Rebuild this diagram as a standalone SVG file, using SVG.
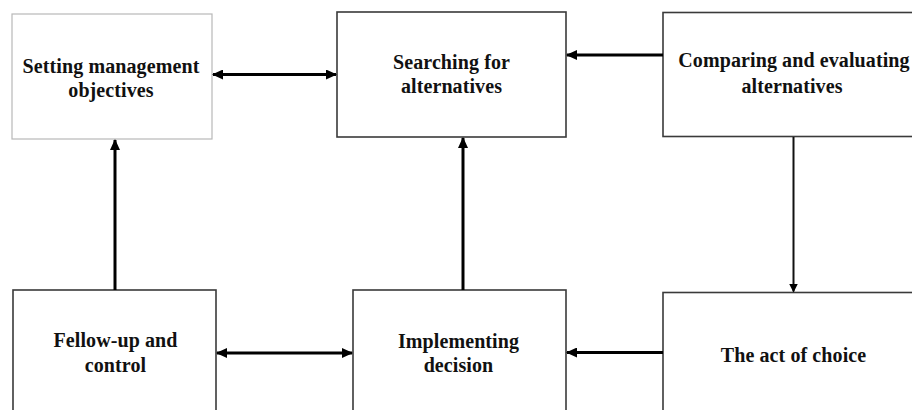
<svg xmlns="http://www.w3.org/2000/svg" width="912" height="410" viewBox="0 0 912 410">
<style>
.box{fill:#fff;stroke:#3a3a3a;stroke-width:1.6}
.light{fill:#fff;stroke:#b8b8b8;stroke-width:1.2}
.lbl{font-family:'Liberation Serif','Times New Roman',Times,serif;font-weight:700;font-size:20px;letter-spacing:0.1px;fill:#111;text-anchor:middle}
.con{stroke:#000;stroke-width:3;fill:none}
.thin{stroke:#111;stroke-width:2;fill:none}
</style>
<defs>
<marker id="ah" markerUnits="userSpaceOnUse" markerWidth="11" markerHeight="10" refX="10" refY="5" orient="auto-start-reverse" viewBox="0 0 11 10">
<path d="M0,0 L11,5 L0,10 z" fill="#000"/>
</marker>
<marker id="ahs" markerUnits="userSpaceOnUse" markerWidth="9" markerHeight="9" refX="8" refY="4.5" orient="auto" viewBox="0 0 9 9">
<path d="M0,0 L9,4.5 L0,9 z" fill="#000"/>
</marker>
</defs>
<rect width="912" height="410" fill="#fff"/>
<g id="n1">
<rect class="light" x="12" y="14" width="200" height="125"/>
<text class="lbl" x="111" y="73">Setting management</text>
<text class="lbl" x="111" y="97">objectives</text>
</g>
<g id="n2">
<rect class="box" x="337" y="12" width="229" height="125"/>
<text class="lbl" x="451.5" y="69">Searching for</text>
<text class="lbl" x="451.5" y="93">alternatives</text>
</g>
<g id="n3">
<rect class="box" x="663" y="12.5" width="270" height="124"/>
<text class="lbl" x="794" y="67">Comparing and evaluating</text>
<text class="lbl" x="792" y="93">alternatives</text>
</g>
<g id="n4">
<rect class="box" x="13" y="290" width="203" height="140"/>
<text class="lbl" x="115.5" y="347">Fellow-up and</text>
<text class="lbl" x="115.5" y="372">control</text>
</g>
<g id="n5">
<rect class="box" x="353" y="290" width="213" height="140"/>
<text class="lbl" x="458.5" y="348">Implementing</text>
<text class="lbl" x="458.5" y="372">decision</text>
</g>
<g id="n6">
<rect class="box" x="663" y="292.5" width="270" height="140"/>
<text class="lbl" x="793.5" y="362">The act of choice</text>
</g>
<g id="connectors">
<line class="con" x1="213" y1="74.5" x2="336" y2="74.5" marker-start="url(#ah)" marker-end="url(#ah)"/>
<line class="con" x1="663" y1="55" x2="567" y2="55" marker-end="url(#ah)"/>
<line class="thin" x1="793.5" y1="137" x2="793.5" y2="291.5" marker-end="url(#ahs)"/>
<line class="con" x1="463" y1="290" x2="463" y2="138" marker-end="url(#ah)"/>
<line class="con" x1="115" y1="290" x2="115" y2="140" marker-end="url(#ah)"/>
<line class="con" x1="663" y1="352.5" x2="567" y2="352.5" marker-end="url(#ah)"/>
<line class="con" x1="217" y1="353" x2="352" y2="353" marker-start="url(#ah)" marker-end="url(#ah)"/>
</g>
</svg>
